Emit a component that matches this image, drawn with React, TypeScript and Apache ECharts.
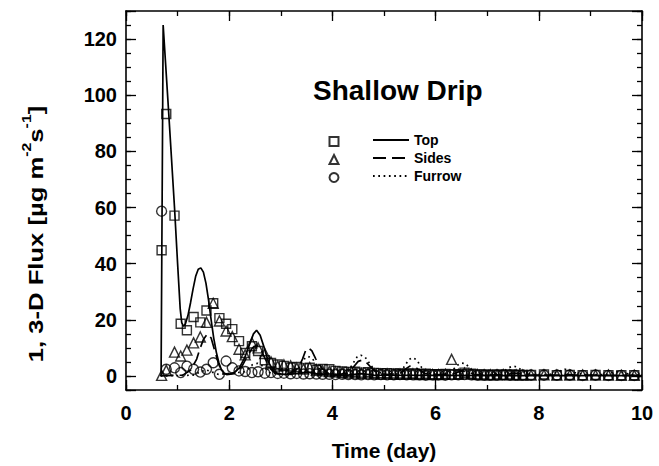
import React, { useEffect, useRef } from "react";
import * as echarts from "echarts";

const FONT = '"Liberation Sans", Arial, Helvetica, sans-serif';

// Measurement times (day)
const sampleTimes = [
  0.69, 0.78, 0.94, 1.06, 1.18, 1.31, 1.44, 1.56, 1.69, 1.81, 1.94,
  2.06, 2.19, 2.31, 2.44, 2.56, 2.69, 2.81, 2.94,
  3.06, 3.19, 3.31, 3.44, 3.56, 3.69, 3.81, 3.94,
  4.06, 4.19, 4.31, 4.44, 4.56, 4.69, 4.81, 4.94,
  5.06, 5.19, 5.31, 5.44, 5.56, 5.69, 5.81, 5.94,
  6.06, 6.19, 6.31, 6.44, 6.56, 6.69, 6.81, 6.94,
  7.06, 7.19, 7.31, 7.44, 7.56, 7.69, 7.85,
  8.1, 8.35, 8.6, 8.85, 9.1, 9.35, 9.6, 9.85,
];

// Measured flux, Top (squares)
const topFlux = [
  44.8, 93.3, 57.1, 18.6, 16.3, 21.0, 19.1, 23.3, 25.9, 20.6, 18.6,
  16.7, 12.4, 8.2, 10.6, 8.9, 5.6, 4.6, 4.1,
  3.6, 3.0, 3.2, 2.7, 2.9, 2.2, 2.5, 2.4,
  1.8, 1.6, 1.4, 1.5, 1.2, 1.3, 1.1, 1.0,
  1.0, 0.9, 0.9, 0.8, 0.9, 0.7, 0.8, 0.6,
  0.6, 0.7, 0.5, 0.6, 1.2, 0.8, 0.5, 0.5,
  0.4, 0.5, 0.4, 0.5, 0.4, 0.4, 0.4,
  0.5, 0.3, 0.4, 0.3, 0.4, 0.3, 0.3, 0.3,
];

// Measured flux, Sides (triangles)
const sidesFlux = [
  0.2, 2.0, 8.5, 7.1, 9.2, 11.8, 13.9, 19.1, 25.9, 19.6, 16.0,
  14.0, 9.5, 7.5, 11.8, 10.0, 8.0, 5.0, 3.5,
  4.0, 3.6, 2.8, 2.5, 3.0, 2.0, 1.8, 1.6,
  1.5, 1.2, 1.0, 1.1, 0.9, 1.0, 0.8, 0.7,
  0.8, 0.6, 0.7, 0.6, 0.8, 0.5, 0.6, 0.5,
  0.5, 0.6, 5.9, 0.6, 1.0, 0.7, 0.5, 0.4,
  0.4, 0.4, 0.5, 0.4, 0.4, 0.3, 0.3,
  0.4, 0.3, 0.3, 0.3, 0.3, 0.3, 0.2, 0.2,
];

// Measured flux, Furrow (circles)
const furrowFlux = [
  58.7, 2.4, 2.9, 1.2, 3.5, 2.4, 1.4, 2.4, 4.7, 0.6, 5.3,
  2.9, 1.8, 1.6, 1.2, 1.5, 1.0, 1.2, 0.9,
  1.0, 0.8, 0.9, 0.7, 0.8, 0.7, 0.6, 0.6,
  0.5, 0.6, 0.5, 0.5, 0.4, 0.5, 0.4, 0.5,
  0.4, 0.4, 0.5, 0.4, 0.4, 0.4, 0.3, 0.4,
  0.4, 0.3, 0.4, 0.4, 0.5, 0.4, 0.3, 0.3,
  0.3, 0.3, 0.4, 0.3, 0.3, 0.3, 0.3,
  0.3, 0.3, 0.3, 0.2, 0.3, 0.2, 0.2, 0.2,
];

// Model curves [time, flux]
const topModel = [
  [0.67, 0], [0.68, 0.5], [0.7, 62], [0.72, 125], [0.83, 93], [0.94, 60], [1.0, 40],
  [1.05, 24], [1.08, 19], [1.11, 17.7], [1.15, 18.5], [1.2, 21.5], [1.25, 26], [1.3, 31],
  [1.35, 35.5], [1.4, 38], [1.45, 38.5], [1.5, 37], [1.55, 33], [1.6, 27], [1.65, 20],
  [1.7, 13.5], [1.75, 8.5], [1.8, 4.7], [1.85, 2.2], [1.9, 0.9], [2.0, 0.6], [2.1, 1.2],
  [2.2, 3], [2.3, 6.5], [2.4, 11.5], [2.47, 15], [2.53, 16.3], [2.6, 14.5], [2.68, 10],
  [2.76, 5], [2.85, 2], [2.95, 0.8], [3.1, 0.5], [3.3, 0.8], [3.5, 1.4], [3.7, 0.8],
  [3.9, 0.4], [4.3, 0.3], [4.55, 0.8], [4.8, 0.3], [6, 0.2], [8, 0.1], [10, 0.1],
];

const sidesModel = [
  [0.67, 0], [1.1, 0.3], [1.25, 2], [1.37, 6], [1.43, 9.5], [1.5, 13], [1.58, 15],
  [1.65, 13.5], [1.72, 9], [1.8, 4], [1.87, 1.2], [1.95, 0.5], [2.1, 0.8], [2.25, 3.5],
  [2.35, 7], [2.45, 10], [2.53, 11], [2.6, 10], [2.7, 6], [2.8, 2.5], [2.9, 0.8],
  [3.1, 0.5], [3.25, 1.5], [3.34, 2.9], [3.42, 6], [3.48, 9], [3.53, 10], [3.6, 9],
  [3.68, 6], [3.79, 2.9], [3.9, 1], [4.1, 0.5], [4.3, 1], [4.4, 3], [4.5, 5.2],
  [4.57, 5.6], [4.65, 5], [4.75, 3], [4.85, 1.2], [5.0, 0.5], [5.3, 0.8], [5.42, 2.5],
  [5.5, 3.5], [5.6, 3.2], [5.7, 2], [5.8, 0.8], [6.0, 0.4], [6.35, 0.8], [6.5, 1.8],
  [6.62, 1.5], [6.75, 0.6], [7.0, 0.3], [7.4, 0.5], [7.5, 1], [7.6, 0.8], [7.8, 0.3],
  [8.4, 0.3], [8.55, 0.6], [8.7, 0.3], [10, 0.2],
];

const furrowModel = [
  [0.67, 0], [1.3, 0.3], [1.45, 1.5], [1.55, 2.2], [1.65, 1.5], [1.8, 0.5], [2.3, 1.5],
  [2.45, 4], [2.55, 4.5], [2.65, 3.5], [2.8, 1], [3.2, 0.6], [3.35, 3], [3.45, 6],
  [3.53, 7], [3.62, 6], [3.72, 3], [3.85, 1], [4.1, 0.5], [4.3, 1.5], [4.4, 4.5],
  [4.48, 6.8], [4.55, 7.4], [4.63, 6.8], [4.72, 4.5], [4.82, 2], [5.0, 0.6], [5.25, 0.8],
  [5.38, 3], [5.48, 5.8], [5.55, 6.5], [5.63, 5.8], [5.73, 3], [5.85, 1], [6.1, 0.5],
  [6.3, 1.5], [6.42, 3.8], [6.5, 4.6], [6.58, 4.4], [6.68, 2.5], [6.8, 0.9], [7.1, 0.5],
  [7.3, 1.3], [7.42, 3], [7.5, 3.5], [7.58, 3.2], [7.7, 1.6], [7.85, 0.6], [8.2, 0.5],
  [8.38, 1.5], [8.5, 2.4], [8.58, 2.3], [8.7, 1.2], [8.9, 0.5], [9.3, 0.5], [9.45, 1.3],
  [9.53, 1.5], [9.62, 1.2], [9.8, 0.5], [10, 0.4],
];

const legendNames = ["Top", "Sides", "Furrow"];
const chartTitle = "Shallow Drip";
const xTitle = "Time (day)";

const X_MIN = 0, X_MAX = 10;
const Y_MIN = -5, Y_MAX = 130;

function pairs(t: number[], v: number[]) {
  return t.map((x, i) => [x, v[i]]);
}

export default function App() {
  const ref = useRef<HTMLDivElement>(null);
  useEffect(() => {
    if (!ref.current) return;
    const chart = echarts.init(ref.current, null, { renderer: "svg" });
    const axisLine = { show: true, onZero: false, lineStyle: { color: "#000", width: 1.6 } };
    const noLine = { show: false, onZero: false };
    const minorTick = { show: true, inside: true, length: 5, lineStyle: { color: "#000", width: 1.3 } };
    const majorTick = { show: true, inside: true, length: 10, lineStyle: { color: "#000", width: 1.3 } };
    const labelStyle = { color: "#000", fontFamily: FONT, fontSize: 20, fontWeight: "bold" as const };

    const xBase = { type: "value" as const, min: X_MIN, max: X_MAX, splitLine: { show: false } };
    const yBase = { type: "value" as const, min: Y_MIN, max: Y_MAX, splitLine: { show: false } };

    const scatterStyle = { color: "none", borderColor: "#000", borderWidth: 1.4 };

    const lineLegend = (name: string, top: number) => ({
      data: [name],
      left: 372,
      top,
      orient: "vertical",
      padding: 0,
      itemWidth: 36,
      itemHeight: 12,
      itemStyle: { opacity: 0 },
      selectedMode: false,
      textStyle: { color: "#000", fontFamily: FONT, fontSize: 14, fontWeight: "bold" },
    });
    const markLegend = (name: string, top: number) => ({
      data: [name],
      left: 327,
      top,
      padding: 0,
      itemWidth: 9,
      itemHeight: 9,
      selectedMode: false,
      formatter: () => "",
    });

    chart.setOption({
      animation: false,
      backgroundColor: "#fff",
      title: {
        text: chartTitle,
        left: 313,
        top: 76,
        padding: 0,
        textStyle: { color: "#000", fontFamily: FONT, fontSize: 28, fontWeight: "bold" },
      },
      graphic: [
        {
          type: "text",
          x: 33,
          y: 234,
          rotation: Math.PI / 2,
          scaleX: 1.22,
          style: {
            text: "{a|1, 3-D Flux [µg m}{s|-2}{a|s}{s|-1}{a|]}",
            align: "center",
            verticalAlign: "middle",
            rich: {
              a: { fill: "#000", fontFamily: FONT, fontSize: 21, fontWeight: "bold", lineHeight: 26, verticalAlign: "bottom" },
              s: { fill: "#000", fontFamily: FONT, fontSize: 13, fontWeight: "bold", lineHeight: 26, verticalAlign: "top" },
            },
          },
        },
      ],
      legend: [
        lineLegend(legendNames[0], 133),
        lineLegend(legendNames[1], 151),
        lineLegend(legendNames[2], 169),
        markLegend("Top measured", 134.5),
        markLegend("Sides measured", 152.5),
        markLegend("Furrow measured", 170.5),
      ],
      grid: { left: 126, right: 17, top: 11, bottom: 72 },
      xAxis: [
        { ...xBase, position: "bottom", interval: 1, axisLine, axisTick: minorTick, axisLabel: { show: false } },
        {
          ...xBase, position: "bottom", interval: 2, axisLine: noLine, axisTick: majorTick,
          axisLabel: { ...labelStyle, margin: 13 },
          name: xTitle, nameLocation: "middle", nameGap: 50,
          nameTextStyle: { color: "#000", fontFamily: FONT, fontSize: 21, fontWeight: "bold" },
        },
        { ...xBase, position: "top", interval: 1, axisLine, axisTick: minorTick, axisLabel: { show: false } },
        { ...xBase, position: "top", interval: 2, axisLine: noLine, axisTick: majorTick, axisLabel: { show: false } },
      ],
      yAxis: [
        { ...yBase, position: "left", interval: 5, axisLine, axisTick: minorTick, axisLabel: { show: false } },
        {
          ...yBase, position: "left", minInterval: 20, maxInterval: 20, axisLine: noLine, axisTick: majorTick,
          axisLabel: { ...labelStyle, margin: 9, formatter: (v: number) => (v >= 0 && v <= 120 ? String(v) : "") },
        },
        { ...yBase, position: "right", interval: 5, axisLine, axisTick: minorTick, axisLabel: { show: false } },
        { ...yBase, position: "right", minInterval: 20, maxInterval: 20, axisLine: noLine, axisTick: majorTick, axisLabel: { show: false } },
      ],
      series: [
        {
          name: legendNames[0], type: "line", data: topModel, symbol: "none",
          lineStyle: { color: "#000", width: 1.7, type: "solid" }, itemStyle: { color: "#000" },
        },
        {
          name: legendNames[1], type: "line", data: sidesModel, symbol: "none",
          lineStyle: { color: "#000", width: 1.7, type: [13, 6] }, itemStyle: { color: "#000" },
        },
        {
          name: legendNames[2], type: "line", data: furrowModel, symbol: "none",
          lineStyle: { color: "#000", width: 1.7, type: [1.7, 3.6] }, itemStyle: { color: "#000" },
        },
        {
          name: "Top measured", type: "scatter", data: pairs(sampleTimes, topFlux),
          symbol: "rect", symbolSize: 9, itemStyle: scatterStyle,
        },
        {
          name: "Sides measured", type: "scatter", data: pairs(sampleTimes, sidesFlux),
          symbol: "triangle", symbolSize: 10, itemStyle: scatterStyle,
        },
        {
          name: "Furrow measured", type: "scatter", data: pairs(sampleTimes, furrowFlux),
          symbol: "circle", symbolSize: 10, itemStyle: scatterStyle,
        },
      ],
    });
    return () => chart.dispose();
  }, []);
  return (
    <div
      ref={ref}
      style={{ position: "absolute", left: 0, top: 0, width: 659, height: 466, background: "#fff" }}
    />
  );
}
